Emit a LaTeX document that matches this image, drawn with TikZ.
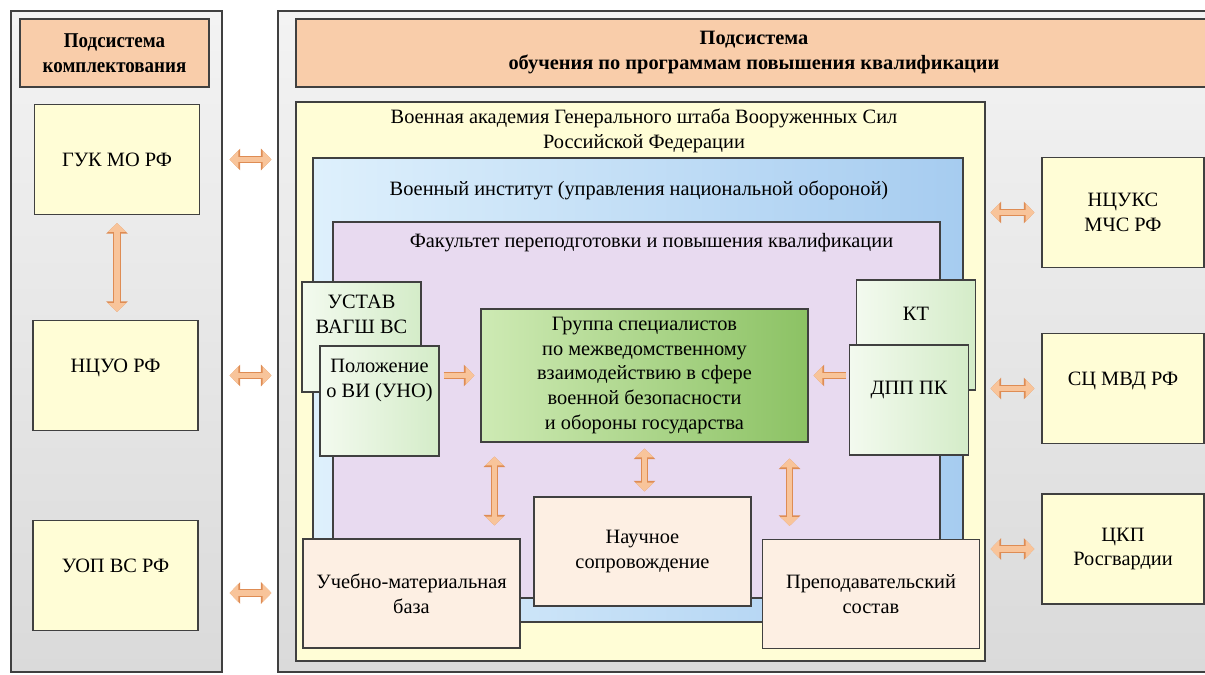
\documentclass[tikz,border=0pt]{standalone}
\usepackage{fontspec}
\setmainfont{Liberation Serif}
\newfontfamily\narrowbold[FakeStretch=0.9]{Liberation Serif Bold}
\usepackage{tikz}
\usetikzlibrary{arrows.meta,positioning,calc}
\definecolor{panelgray}{RGB}{218,218,218}
\definecolor{panellight}{RGB}{243,243,243}
\definecolor{headpeach}{RGB}{249,205,170}
\definecolor{boxyellow}{RGB}{255,253,214}
\definecolor{instlight}{RGB}{222,240,252}
\definecolor{instdark}{RGB}{166,204,240}
\definecolor{faclilac}{RGB}{232,218,240}
\definecolor{doclight}{RGB}{243,250,239}
\definecolor{docdark}{RGB}{212,236,200}
\definecolor{grplight}{RGB}{206,234,180}
\definecolor{grpdark}{RGB}{140,194,100}
\definecolor{basepeach}{RGB}{253,239,227}
\definecolor{arrfill}{RGB}{248,196,154}
\definecolor{arredge}{RGB}{222,140,84}
\definecolor{edgegray}{RGB}{64,64,64}
\newcommand{\toptext}[3][2.3cm]{\parbox[c][#2][t]{#1}{\centering #3}}

\begin{document}
\begin{tikzpicture}[
  x=0.02cm, y=-0.02cm,
  font=\fontsize{11.6}{14.2}\selectfont,
  box/.style={draw=edgegray,line width=0.7pt,inner sep=0pt,align=center},
  panel/.style={box,top color=panellight,bottom color=panelgray},
  head/.style={box,fill=headpeach,font=\fontsize{11.6}{14.2}\selectfont\bfseries},
  org/.style={box,fill=boxyellow,minimum width=3.3cm,minimum height=2.2cm},
  doc/.style={box,left color=doclight,right color=docdark,minimum width=2.38cm,minimum height=2.2cm},
  base/.style={box,fill=basepeach,minimum width=4.34cm,minimum height=2.18cm},
  lbl/.style={align=center,inner sep=0pt},
  link/.style={line width=3.2pt,draw=arrfill,{Triangle[width=10pt,length=5pt]}-{Triangle[width=10pt,length=5pt]},
    preaction={draw=arredge,line width=4.4pt,{Triangle[width=12pt,length=6pt]}-{Triangle[width=12pt,length=6pt]}}},
  one/.style={line width=3.2pt,draw=arrfill,-{Triangle[width=10pt,length=5pt]},
    preaction={draw=arredge,line width=4.4pt,-{Triangle[width=12pt,length=6pt]}}},
]
\clip (0,0) rectangle (1205,675);

% подсистема комплектования
\node[panel,minimum width=4.22cm,minimum height=13.22cm] (lpanel) at (116.5,341.5) {};
\node[head,minimum width=3.78cm,minimum height=1.36cm,font=\narrowbold\fontsize{12}{14.2}\selectfont] (lhead) at (114.5,53) {Подсистема\\комплектования};
\node[org] (guk) at (117,159.5) {ГУК МО РФ};
\node[org] (ncuo) at (115.5,375.5) {\toptext[3cm]{0.66cm}{НЦУО РФ}};
\node[org] (uop) at (115.5,575.5) {\toptext[3cm]{0.66cm}{УОП ВС РФ}};

% подсистема обучения
\node[panel,minimum width=18.68cm,minimum height=13.22cm] (rpanel) at (745,341.5) {};
\node[head,minimum width=18.32cm,minimum height=1.36cm] (rhead) at (754,53) {Подсистема\\обучения по программам повышения квалификации};

\node[box,fill=boxyellow,minimum width=13.78cm,minimum height=11.18cm] (vagsh) at (640.5,381.5) {};
\node[lbl] (vagshlbl) at (644,130.5) {Военная академия Генерального штаба Вооруженных Сил\\Российской Федерации};
\node[box,left color=instlight,right color=instdark,minimum width=13cm,minimum height=9.28cm] (vi) at (638,390) {};
\node[lbl] (vilbl) at (639,190) {Военный институт (управления национальной обороной)};
\node[box,fill=faclilac,minimum width=12.14cm,minimum height=7.52cm] (fac) at (636.5,410) {};
\node[lbl] (faclbl) at (651.5,243) {Факультет переподготовки и повышения квалификации};

% документы и группа
\node[doc] (ustav) at (361.5,337) {\toptext{1.68cm}{УСТАВ\\ВАГШ ВС}};
\node[doc] (pol) at (379.5,401) {\toptext{1.68cm}{Положение\\о ВИ (УНО)}};
\node[box,left color=grplight,right color=grpdark,minimum width=6.54cm,minimum height=2.66cm] (grp) at (644.5,375.5)
  {Группа специалистов\\по межведомственному\\взаимодействию в сфере\\военной безопасности\\и обороны государства};
\node[doc] (kt) at (916,335) {\toptext{1.12cm}{КТ}};
\node[doc] (dpp) at (909,400) {\toptext{0.76cm}{ДПП ПК}};

\node[base] (umb) at (411.5,593.5) {Учебно-материальная\\база};
\node[base] (nauch) at (642.5,551.5) {Научное\\сопровождение};
\node[base] (prep) at (871,594) {Преподавательский\\состав};

% взаимодействующие органы
\node[org,minimum width=3.24cm] (ncuks) at (1123,212.5) {НЦУКС\\МЧС РФ};
\node[org,minimum width=3.24cm] (scmvd) at (1123,388.5) {\toptext[3cm]{0.66cm}{СЦ МВД РФ}};
\node[org,minimum width=3.24cm] (ckp) at (1123,549) {ЦКП\\Росгвардии};

% стрелки
\draw[link,shorten <=0.16cm,shorten >=0.16cm] (guk.south) -- (guk.south |- ncuo.north);
\draw[link,shorten <=0.14cm,shorten >=0.12cm] (guk.east -| lpanel.east) -- (guk.east -| rpanel.west);
\draw[link,shorten <=0.14cm,shorten >=0.12cm] (ncuo.east -| lpanel.east) -- (ncuo.east -| rpanel.west);
\draw[link,shorten <=0.14cm,shorten >=0.12cm] ([yshift=-0.35cm]uop.east -| lpanel.east) -- ([yshift=-0.35cm]uop.east -| rpanel.west);

\draw[one,shorten <=0.08cm,shorten >=0.12cm] (pol.east |- grp.west) -- (grp.west);
\draw[one,shorten <=0.06cm,shorten >=0.1cm] (dpp.west |- grp.east) -- (grp.east);
\draw[link,shorten <=0.28cm,shorten >=0.26cm] ([xshift=0.28cm]grp.south west) -- ([xshift=0.28cm]grp.south west |- umb.north);
\draw[link,shorten <=0.12cm,shorten >=0.1cm] (grp.south) -- (grp.south |- nauch.north);
\draw[link,shorten <=0.32cm,shorten >=0.26cm] ([xshift=-0.38cm]grp.south east) -- ([xshift=-0.38cm]grp.south east |- prep.north);

\draw[link,shorten <=0.1cm,shorten >=0.14cm] (ncuks.west -| vagsh.east) -- (ncuks.west);
\draw[link,shorten <=0.1cm,shorten >=0.14cm] (scmvd.west -| vagsh.east) -- (scmvd.west);
\draw[link,shorten <=0.1cm,shorten >=0.14cm] (ckp.west -| vagsh.east) -- (ckp.west);

\end{tikzpicture}
\end{document}
